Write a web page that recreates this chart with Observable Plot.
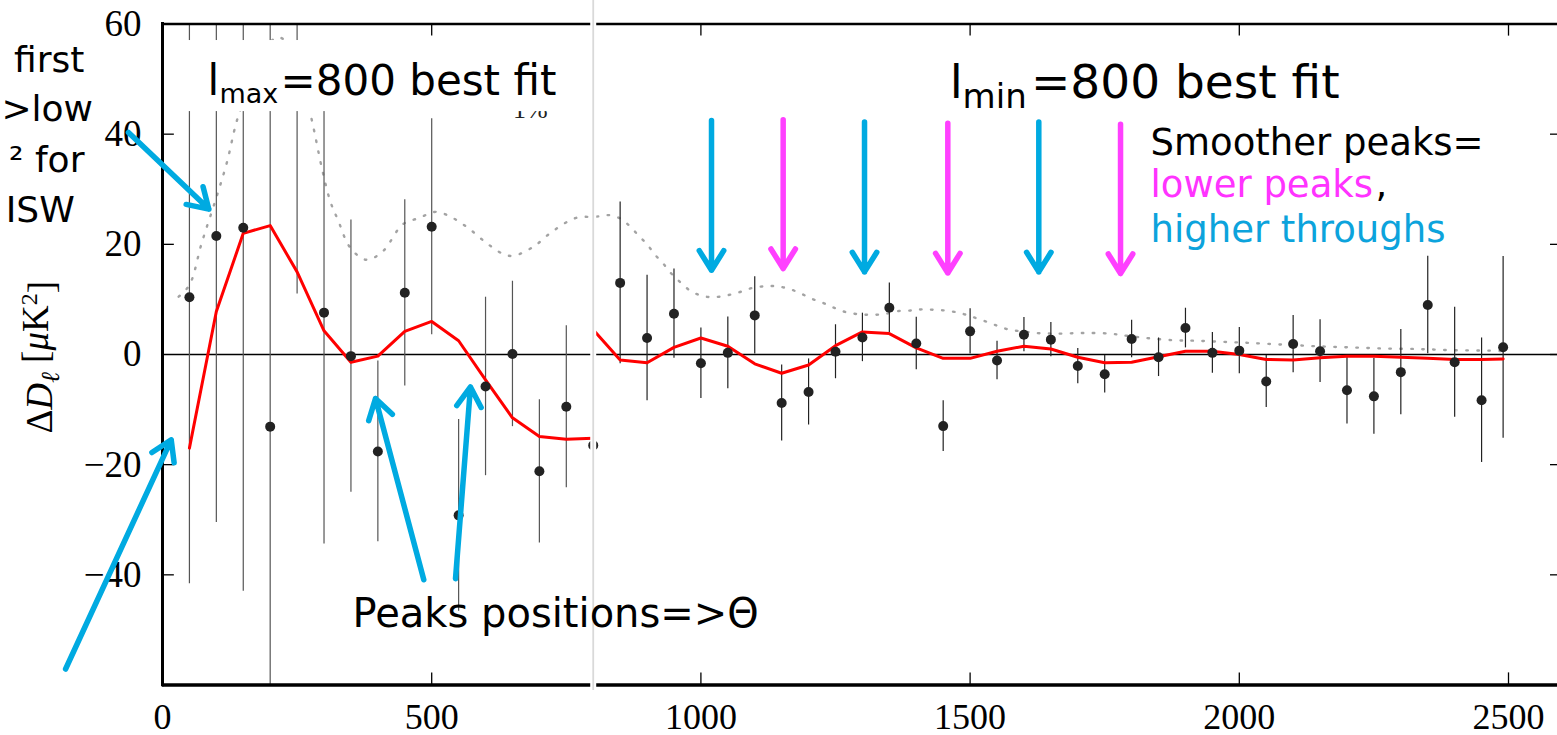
<!DOCTYPE html>
<html><head><meta charset="utf-8">
<script src="https://cdn.jsdelivr.net/npm/d3@7"></script>
<script src="https://cdn.jsdelivr.net/npm/@observablehq/plot@0.6"></script>
<style>html,body{margin:0;padding:0;background:#fff;} #chart svg{display:block;}</style>
</head><body><div id="chart"></div>
<script>
// ---- data: left panel (l_max = 800 fit) ----
const ellLeft = [50,100,150,200,250,300,350,400,450,500,550,600,650,700,750,800];
const dLeft   = [10.4,21.5,23.0,-13.1,56,7.6,-0.3,-17.6,11.2,23.2,-29.2,-5.8,0.1,-21.2,-9.5,-16.5];
const errLeft = [52,52,66,75,45,42,24.7,16.4,16.9,19.6,17.4,16.2,13.2,13,14.7,15];
const fitLeft = [-17.0,7.8,22.0,23.4,15.0,4.3,-1.4,-0.3,4.2,6.0,2.5,-4.6,-11.5,-14.9,-15.4,-15.2];

// ---- data: right panel (l_min = 800 fit) ----
const ellRight = [850,900,950,1000,1050,1100,1150,1200,1250,1300,1350,1400,1450,1500,1550,1600,1650,1700,1750,1800,1850,1900,1950,2000,2050,2100,2150,2200,2250,2300,2350,2400,2450,2490];
const dRight   = [13.0,3.0,7.4,-1.6,0.3,7.1,-8.8,-6.8,0.5,3.1,8.5,2.0,-13.0,4.2,-1.1,3.6,2.7,-2.1,-3.6,2.8,-0.5,4.8,0.3,0.7,-4.9,1.9,0.6,-6.5,-7.6,-3.2,9.0,-1.4,-8.3,1.3];
const errRight = [14.7,11.4,8.1,6.4,6.5,7.0,6.9,6.0,4.9,4.4,4.5,4.75,4.6,4.1,3.5,3.1,3.1,3.2,3.4,3.4,3.5,3.6,3.7,4.2,4.7,5.2,5.7,6.1,6.9,7.75,8.85,10,11.3,16.5];
const ellFitRight = [800,850,900,950,1000,1050,1100,1150,1200,1250,1300,1350,1400,1450,1500,1550,1600,1650,1700,1750,1800,1850,1900,1950,2000,2050,2100,2150,2200,2250,2300,2350,2400,2450,2490];
const fitRight    = [4.5,-1.0,-1.5,1.3,3.0,1.5,-1.7,-3.4,-1.9,1.6,4.1,3.8,1.2,-0.7,-0.7,0.6,1.5,1.0,-0.5,-1.5,-1.4,-0.4,0.6,0.6,0.0,-0.9,-1.0,-0.6,-0.3,-0.3,-0.5,-0.7,-0.9,-0.9,-0.8];

// ---- data: LCDM reference spectrum (1%), dotted ----
const ellLcdm = [30,50,73,100,120,138,165,190,215,240,260,277,297,312,326,348,378,409,446,477,508,539,570,601,632,651,688,725,768,804,829,850,868,884,900,914,930,945,962,980,1000,1022,1047,1071,1096,1121,1140,1161,1183,1204,1226,1247,1269,1294,1319,1343,1368,1393,1411,1436,1461,1486,1505,1529,1551,1573,1598,1623,1647,1672,1709,1759,1783,1826,1876,1919,1969,2018,2080,2142,2204,2266,2328,2390,2464,2490];
const lcdm    = [10.5,12.6,20.3,28.5,35,42.4,50,55.5,57.6,55.5,49,42.7,33.4,27.7,24.4,19.5,17.2,18.7,23.6,24.8,25.9,24.8,22.8,20.3,18.3,17.9,19.5,22.4,24.8,25.0,25.3,24.7,23.3,21.6,20,18.2,16.5,14.7,13.1,11.6,10.7,10.4,10.7,11.3,12.1,12.4,12.4,12.0,11.2,10.2,9.4,8.5,7.7,7.3,7.2,7.4,7.9,8.0,8.2,8.1,7.9,7.4,6.8,6.0,5.2,4.5,4.2,3.9,3.8,3.8,3.9,3.8,3.5,3.0,2.6,2.5,2.3,2.1,1.8,1.5,1.3,1.1,1.0,0.8,0.7,0.6];

// ---- axes ----
const xTicks = [0,500,1000,1500,2000,2500];
const xTickLabels = ["0","500","1000","1500","2000","2500"];
const yTicks = [60,40,20,0,-20,-40];
const yTickLabels = ["60","40","20","0","\u221220","\u221240"];
const yInnerTicks = [40,20,-20,-40];
const yRightTicks = [40,20,0,-20,-40];
const xInnerTicks = [500,1000,1500,2000,2500];
const yLabel = "\u0394D\u2113 [\u03bcK\u00b2]";

// ---- annotations (data coordinates) ----
const blueArrows = [
  {x1:-63.2, y1:40.3, x2:86, y2:26.4},
  {x1:-180, y1:-57.1, x2:16.2, y2:-15.5},
  {x1:485.3, y1:-40.9, x2:395.6, y2:-8.0},
  {x1:544.2, y1:-40.7, x2:572, y2:-5.9},
  {x1:1019.7, y1:42.5, x2:1019.7, y2:15.3},
  {x1:1303.9, y1:42.2, x2:1303.9, y2:15.0},
  {x1:1627.6, y1:42.2, x2:1627.6, y2:15.0}
];
const magentaArrows = [
  {x1:1152.8, y1:42.6, x2:1152.8, y2:15.6},
  {x1:1458.6, y1:42.0, x2:1458.6, y2:14.8},
  {x1:1779.4, y1:41.8, x2:1779.4, y2:14.7}
];
const bigNotes = [
  {t:"l", x:83.6, y:47.2, s:42},
  {t:"max", x:105.9, y:45.6, s:27},
  {t:"=800 best fit", x:219.2, y:47.2, s:42},
  {t:"l", x:1462, y:46.6, s:47},
  {t:"min", x:1486, y:44.8, s:34},
  {t:"=800 best fit", x:1613, y:46.6, s:47},
  {t:"Peaks positions=>\u0398", x:352.9, y:-49.4, s:40}
];
const sideNotes = [
  {t:"Smoother peaks=", x:1835, y:36.2, c:"#000000"},
  {t:"lower peaks", x:1835, y:28.6, c:"#ff33ff"},
  {t:",", x:2253, y:28.6, c:"#000000"},
  {t:"higher throughs", x:1835, y:20.4, c:"#0ca3dc"}
];
const leftNotes = [
  {t:"first", x:-145, y:51.3},
  {t:">low", x:-129, y:42.3},
  {t:"\u00b2 for", x:-145, y:33.2},
  {t:"ISW", x:-163, y:24.1}
];
const labelBox = [{x1:33, x2:767, y1:44.1, y2:57.0}];

const ptsL = ellLeft.map((l,i)=>({l, v:dLeft[i], e:errLeft[i]}));
const ptsR = ellRight.map((l,i)=>({l, v:dRight[i], e:errRight[i]}));
const pts = ptsL.concat(ptsR);
const fitL = ellLeft.map((l,i)=>({l, v:fitLeft[i]}));
const fitR = ellFitRight.map((l,i)=>({l, v:fitRight[i]}));
const lc = ellLcdm.map((l,i)=>({l, v:lcdm[i]}));

const SERIF = "Liberation Serif, Times New Roman, serif";
const SANS = "DejaVu Sans, Verdana, sans-serif";
const BLUE = "#00aae1", MAG = "#ff40ff";

const plot = Plot.plot({
  width: 1557, height: 735,
  marginLeft: 162, marginRight: 0, marginTop: 23.5, marginBottom: 50.5,
  x: {domain: [0, 2591], axis: null},
  y: {domain: [-60, 60], axis: null},
  style: {background: "white", overflow: "visible"},
  marks: [
    Plot.ruleY([0], {stroke: "#000", strokeWidth: 1.4}),
    Plot.line(lc, {x:"l", y:"v", stroke:"#a3a3a3", strokeWidth:2.4, strokeDasharray:"1.5,9.5", strokeLinecap:"round", curve:"catmull-rom"}),
    Plot.ruleX(ptsL, {x:"l", y1:d=>d.v-d.e, y2:d=>d.v+d.e, stroke:"#555", strokeWidth:1.2, clip:true}),
    Plot.ruleX(ptsR, {x:"l", y1:d=>d.v-d.e, y2:d=>d.v+d.e, stroke:"#222", strokeWidth:1.2, clip:true}),
    Plot.line(fitL, {x:"l", y:"v", stroke:"#ff0000", strokeWidth:3}),
    Plot.line(fitR, {x:"l", y:"v", stroke:"#ff0000", strokeWidth:3}),
    Plot.dot(pts, {x:"l", y:"v", r:5, fill:"#222", stroke:"none", clip:true}),
    Plot.text(["1%"], {x:683, y:42.9, text:d=>d, fontSize:26, fontFamily:SERIF, fill:"#222", lineAnchor:"bottom"}),
    Plot.rect(labelBox, {x1:"x1", x2:"x2", y1:"y1", y2:"y2", fill:"white"}),
    // frame
    Plot.ruleY([60], {x1:0, x2:2591, stroke:"#000", strokeWidth:2.6}),
    Plot.ruleY([-60], {x1:0, x2:2591, stroke:"#000", strokeWidth:3.4}),
    Plot.ruleX([0], {y1:-60.3, y2:60.25, stroke:"#000", strokeWidth:3}),
    Plot.ruleX(xInnerTicks, {x:d=>d, y1:60, y2:57.8, stroke:"#000", strokeWidth:1.3}),
    Plot.ruleX(xInnerTicks, {x:d=>d, y1:-60, y2:-57.8, stroke:"#000", strokeWidth:1.3}),
    Plot.ruleY(yInnerTicks, {y:d=>d, x1:0, x2:22, stroke:"#000", strokeWidth:1.3}),
    Plot.ruleY(yRightTicks, {y:d=>d, x1:2578, x2:2591, stroke:"#000", strokeWidth:1.3}),
    // separator between the two panels
    Plot.ruleX([800], {y1:-61, y2:64.5, stroke:"white", strokeWidth:6}),
    Plot.ruleX([800], {y1:-61, y2:64.5, stroke:"#d9d9d9", strokeWidth:1.8}),
    // tick labels
    Plot.text(xTicks, {x:d=>d, text:(d,i)=>xTickLabels[i], frameAnchor:"bottom", dy:44, lineAnchor:"bottom", fontSize:36, fontFamily:SERIF, fill:"#000"}),
    Plot.text(yTicks, {y:d=>d, text:(d,i)=>yTickLabels[i], frameAnchor:"left", dx:-21, textAnchor:"end", lineAnchor:"middle", fontSize:37, fontFamily:SERIF, fill:"#000"}),
    Plot.text([yLabel], {x:-228, y:-0.5, text:d=>d, rotate:-90, textAnchor:"middle", lineAnchor:"middle", fontSize:37, fontFamily:SERIF, fill:"#000"}),
    // annotations
    Plot.arrow(blueArrows, {x1:"x1", y1:"y1", x2:"x2", y2:"y2", stroke:BLUE, strokeWidth:5.5, headLength:6.3, headAngle:64, strokeLinecap:"round", strokeLinejoin:"round"}),
    Plot.arrow(magentaArrows, {x1:"x1", y1:"y1", x2:"x2", y2:"y2", stroke:MAG, strokeWidth:5.5, headLength:6.3, headAngle:64, strokeLinecap:"round", strokeLinejoin:"round"}),
    Plot.text(bigNotes, {x:"x", y:"y", text:"t", fontSize:d=>d.s, textAnchor:"start", lineAnchor:"bottom", fontFamily:SANS, fill:"#000"}),
    Plot.text(sideNotes, {x:"x", y:"y", text:"t", fill:d=>d.c, fontSize:37, textAnchor:"start", lineAnchor:"bottom", fontFamily:SANS}),
    Plot.text(leftNotes, {x:"x", y:"y", text:"t", fontSize:36, textAnchor:"end", lineAnchor:"bottom", fontFamily:SANS, fill:"#000"})
  ]
});

const svg = d3.select(plot.tagName === "svg" ? plot : plot.querySelector("svg"));
svg.selectAll("text").each(function(){
  const t = this.textContent;
  if (t === yLabel) {
    const s = d3.select(this);
    s.text(null);
    s.append("tspan").text("\u0394");
    s.append("tspan").attr("font-style","italic").text("D");
    s.append("tspan").attr("dy","0.3em").attr("font-size","26").attr("font-style","italic").text("\u2113");
    s.append("tspan").attr("dy","-0.3em").text(" [");
    s.append("tspan").attr("font-style","italic").text("\u03bc");
    s.append("tspan").text("K");
    s.append("tspan").attr("dy","-0.45em").attr("font-size","24").text("2");
    s.append("tspan").attr("dy","0.45em").text("]");
  }
});
document.getElementById("chart").appendChild(plot);
</script>
</body></html>
